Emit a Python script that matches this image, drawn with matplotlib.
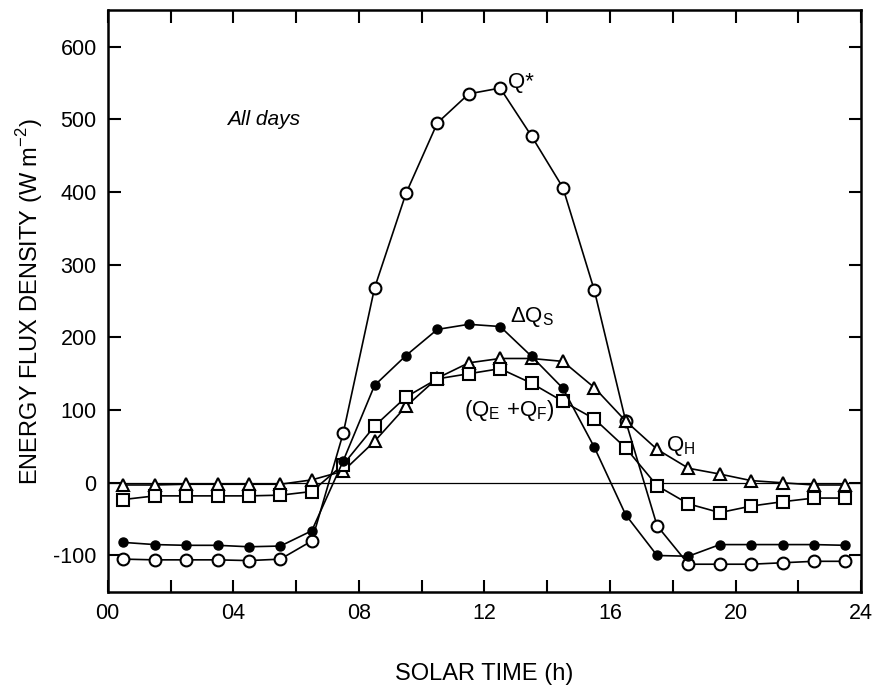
import numpy as np
import matplotlib
matplotlib.use("Agg")
import matplotlib.pyplot as plt
from matplotlib.ticker import MultipleLocator

plt.rcParams['font.family'] = ['Liberation Sans', 'DejaVu Sans']
plt.rcParams['axes.unicode_minus'] = False
plt.rcParams['mathtext.fontset'] = 'custom'
plt.rcParams['mathtext.rm'] = 'Liberation Sans'

# solar time (h), mid-hour values
hours = np.arange(0.5, 24, 1.0)

q_star = [-105, -106, -106, -106, -107, -105, -80, 68, 268, 398, 495, 535,
          543, 477, 406, 265, 85, -59, -112, -112, -112, -110, -108, -108]
delta_qs = [-82, -85, -86, -86, -88, -87, -66, 30, 134, 175, 211, 218,
            215, 174, 130, 49, -44, -100, -101, -85, -85, -85, -85, -86]
q_h = [-3, -3, -2, -2, -2, -2, 4, 16, 57, 105, 144, 165,
       171, 171, 167, 131, 85, 46, 20, 12, 3, 0, -3, -3]
qe_qf = [-23, -18, -18, -18, -18, -17, -12, 25, 78, 118, 143, 150,
         157, 137, 112, 88, 48, -4, -29, -41, -32, -26, -21, -21]

xtick_pos = [0, 4, 8, 12, 16, 20, 24]
xtick_labels = ["00", "04", "08", "12", "16", "20", "24"]

fig = plt.figure(figsize=(8.76, 6.85), dpi=100)
ax = fig.add_axes([0.123, 0.136, 0.860, 0.849])

ax.axhline(0, color='black', lw=0.9, zorder=1)

line_kw = dict(color='black', lw=1.2, zorder=3)
ax.plot(hours, q_star, marker='o', ms=8.5, mfc='white', mec='black', mew=1.5, **line_kw)
ax.plot(hours, q_h, marker='^', ms=9, mfc='white', mec='black', mew=1.5, **line_kw)
ax.plot(hours, qe_qf, marker='s', ms=8, mfc='white', mec='black', mew=1.5, **line_kw)
ax.plot(hours, delta_qs, marker='o', ms=6.5, mfc='black', mec='black', **line_kw)

ax.set_xlim(0, 24)
ax.set_ylim(-150, 650)
ax.set_xticks(xtick_pos)
ax.set_xticklabels(xtick_labels)
ax.xaxis.set_minor_locator(MultipleLocator(2))
ax.yaxis.set_major_locator(MultipleLocator(100))
ax.tick_params(which='both', direction='in', top=True, right=True, width=1.5,
               labelsize=15.5, pad=8)
ax.tick_params(which='major', length=9)
ax.tick_params(which='minor', length=9)
for sp in ax.spines.values():
    sp.set_linewidth(1.8)

ax.set_xlabel("SOLAR TIME (h)", fontsize=17, labelpad=28)
ax.set_ylabel("ENERGY FLUX DENSITY (W m$^{-2}$)", fontsize=17, labelpad=6)

ax.text(3.8, 500, "All days", fontsize=15, style='italic', va='center')
ax.text(12.75, 550, "Q*", fontsize=16, va='center')
ax.text(12.8, 228, r"$\Delta$Q$_\mathrm{S}$", fontsize=16, va='center')
ax.text(11.35, 100, r"(Q$_\mathrm{E}$ +Q$_\mathrm{F}$)", fontsize=16, va='center')
ax.text(17.8, 50, r"Q$_\mathrm{H}$", fontsize=16, va='center')

fig.savefig("out.png", dpi=100)
